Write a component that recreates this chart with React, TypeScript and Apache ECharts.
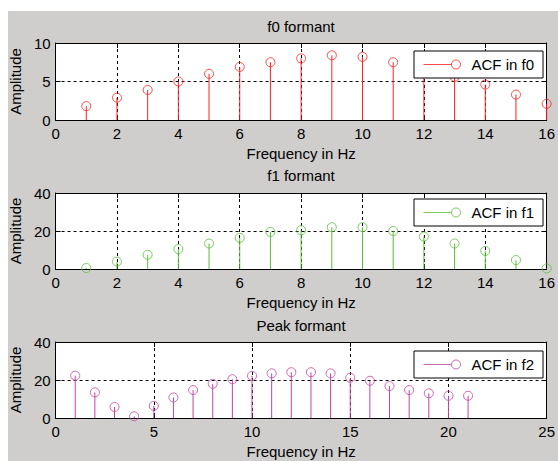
import React, { useEffect, useRef } from 'react';
import * as echarts from 'echarts';

// ---- data ----
const freqF0 = [1, 2, 3, 4, 5, 6, 7, 8, 9, 10, 11, 12, 13, 14, 15, 16];
const acfF0 = [1.8, 2.9, 3.9, 5.0, 6.0, 6.9, 7.5, 8.0, 8.4, 8.2, 7.5, 6.6, 5.6, 4.6, 3.3, 2.1];

const freqF1 = [1, 2, 3, 4, 5, 6, 7, 8, 9, 10, 11, 12, 13, 14, 15, 16];
const acfF1 = [0.5, 3.9, 7.5, 10.5, 13.4, 16.4, 19.5, 20.4, 22.0, 22.0, 20.0, 17.1, 13.4, 9.5, 4.7, 0.3];

const freqF2 = [1, 2, 3, 4, 5, 6, 7, 8, 9, 10, 11, 12, 13, 14, 15, 16, 17, 18, 19, 20, 21];
const acfF2 = [22.3, 13.5, 5.8, 0.9, 6.4, 10.8, 14.7, 18.0, 20.4, 22.2, 23.5, 24.1, 24.1, 23.5, 21.2, 19.6, 16.8, 14.7, 13.0, 11.7, 11.7];

const xTicksF0 = [0, 2, 4, 6, 8, 10, 12, 14, 16];
const yTicksF0 = [0, 5, 10];
const xTicksF1 = [0, 2, 4, 6, 8, 10, 12, 14, 16];
const yTicksF1 = [0, 20, 40];
const xTicksF2 = [0, 5, 10, 15, 20, 25];
const yTicksF2 = [0, 20, 40];

const titles = ['f0 formant', 'f1 formant', 'Peak formant'];
const legendNames = ['ACF in f0', 'ACF in f1', 'ACF in f2'];
const xLabel = 'Frequency in Hz';
const yLabel = 'Amplitude';

const FONT = "'Liberation Sans Narrow', 'Liberation Sans', Arial, sans-serif";
const COLORS = ['#ff2020', '#58bf38', '#c444a0'];
const LEG_ICON = 'path://M0,5L28,5M28,5a4.5,4.5 0 1,0 9,0a4.5,4.5 0 1,0 -9,0';

const panels = [
  { x: freqF0, y: acfF0, xt: xTicksF0, yt: yTicksF0, top: 43, height: 77, legTop: 51, titleY: 26 },
  { x: freqF1, y: acfF1, xt: xTicksF1, yt: yTicksF1, top: 193, height: 76, legTop: 199, titleY: 175 },
  { x: freqF2, y: acfF2, xt: xTicksF2, yt: yTicksF2, top: 342, height: 76, legTop: 351, titleY: 325 },
];

const GRID_LEFT = 54;
const GRID_W = 494;
const FS = 15;

function buildOption() {
  const grid: any[] = [];
  const xAxis: any[] = [];
  const yAxis: any[] = [];
  const series: any[] = [];
  const legend: any[] = [];
  const title: any[] = [];

  panels.forEach((p, i) => {
    const c = COLORS[i];
    grid.push({
      left: GRID_LEFT, top: p.top, width: GRID_W, height: p.height,
      show: true, backgroundColor: '#ffffff', borderWidth: 0,
    });
    const xMin = p.xt[0], xMax = p.xt[p.xt.length - 1], xInt = p.xt[1] - p.xt[0];
    const yMin = p.yt[0], yMax = p.yt[p.yt.length - 1], yInt = p.yt[1] - p.yt[0];
    const lineStyle = { color: '#000', width: 1 };
    const tick = { show: true, inside: true, length: 5, lineStyle: { color: '#000' } };
    const label = { show: true, color: '#000', fontFamily: FONT, fontSize: FS, margin: 6 };
    const split = { show: true, lineStyle: { color: '#000', type: [3, 3], width: 1 } };
    const nameStyle = { color: '#000', fontFamily: FONT, fontSize: FS };

    xAxis.push({
      type: 'value', gridIndex: i, min: xMin, max: xMax, interval: xInt, position: 'bottom',
      axisLine: { show: true, onZero: false, lineStyle }, axisTick: tick, axisLabel: label,
      splitLine: split, name: xLabel, nameLocation: 'middle', nameGap: 26, nameTextStyle: nameStyle,
    });
    xAxis.push({
      type: 'value', gridIndex: i, min: xMin, max: xMax, interval: xInt, position: 'top',
      axisLine: { show: true, onZero: false, lineStyle }, axisTick: tick,
      axisLabel: { show: false }, splitLine: { show: false },
    });
    yAxis.push({
      type: 'value', gridIndex: i, min: yMin, max: yMax, interval: yInt, position: 'left',
      axisLine: { show: true, onZero: false, lineStyle }, axisTick: tick,
      axisLabel: { ...label, margin: 5 },
      splitLine: split, name: yLabel, nameLocation: 'middle', nameGap: 27, nameRotate: 90,
      nameTextStyle: nameStyle,
    });
    yAxis.push({
      type: 'value', gridIndex: i, min: yMin, max: yMax, interval: yInt, position: 'right',
      axisLine: { show: true, onZero: false, lineStyle }, axisTick: tick,
      axisLabel: { show: false }, splitLine: { show: false },
    });

    const data = p.x.map((xv, k) => [xv, p.y[k]]);
    series.push({
      type: 'custom', name: 'stem' + i, xAxisIndex: 2 * i, yAxisIndex: 2 * i,
      data, encode: { x: 0, y: 1 }, clip: false,
      renderItem: (params: any, api: any) => {
        const xv = api.value(0), yv = api.value(1);
        const p0 = api.coord([xv, 0]);
        const p1 = api.coord([xv, yv]);
        return {
          type: 'line',
          shape: { x1: p0[0], y1: p0[1], x2: p1[0], y2: p1[1] },
          style: { stroke: c, lineWidth: 1 },
        };
      },
    });
    series.push({
      type: 'scatter', name: legendNames[i], xAxisIndex: 2 * i, yAxisIndex: 2 * i,
      data, symbol: 'circle', symbolSize: 9, clip: false,
      itemStyle: { color: 'rgba(0,0,0,0)', borderColor: c, borderWidth: 1 },
    });
    legend.push({
      left: 414, top: p.legTop, orient: 'horizontal', selectedMode: false,
      backgroundColor: '#ffffff', borderColor: '#000', borderWidth: 1, borderRadius: 0,
      padding: [6, 9, 6, 9], itemWidth: 37, itemHeight: 9,
      textStyle: { fontFamily: FONT, fontSize: FS, color: '#000', lineHeight: 15, padding: [0, 0, 0, 6] },
      data: [{ name: legendNames[i], icon: LEG_ICON,
        itemStyle: { color: 'rgba(0,0,0,0)', borderColor: c, borderWidth: 1 } }],
    });
    title.push({
      text: titles[i], left: GRID_LEFT + GRID_W / 2, textAlign: 'center', top: p.titleY - 8, padding: 0,
      textStyle: { fontFamily: FONT, fontSize: FS, fontWeight: 'normal', color: '#000', lineHeight: 16 },
    });
  });

  return {
    animation: false,
    backgroundColor: '#ffffff',
    graphic: [{
      type: 'rect', z: -10, silent: true,
      shape: { x: 8, y: 11, width: 550, height: 450 },
      style: { fill: '#cfcecc' },
    }],
    title, grid, xAxis, yAxis, series, legend,
  };
}

export default function App() {
  const ref = useRef<HTMLDivElement>(null);
  useEffect(() => {
    document.body.style.margin = '0';
    if (!ref.current) return;
    const chart = echarts.init(ref.current, undefined, { renderer: 'svg' });
    chart.setOption(buildOption() as any);
    return () => chart.dispose();
  }, []);
  return <div ref={ref} style={{ width: 558, height: 461 }} />;
}
